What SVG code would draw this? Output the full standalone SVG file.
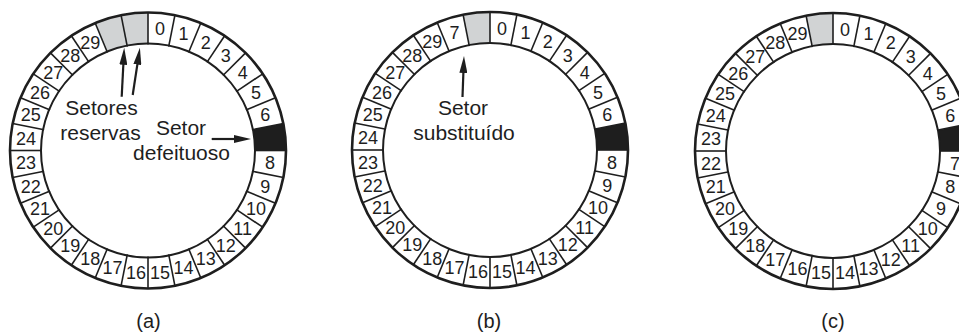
<svg xmlns="http://www.w3.org/2000/svg" xmlns:xlink="http://www.w3.org/1999/xlink" width="959" height="332" viewBox="0 0 959 332">
<style>
  .outer { fill: none; stroke: #1e1e1e; stroke-width: 2.6; }
  .inner { fill: none; stroke: #1e1e1e; stroke-width: 2; }
  .spoke { stroke: #1e1e1e; stroke-width: 1.6; }
  .spare { fill: #d1d3d4; }
  .bad { fill: #1e1e1e; }
  .num { font-family: "Liberation Sans", Arial, sans-serif; font-size: 18px; fill: #1e1e1e; text-anchor: middle; }
  .lbl { font-family: "Liberation Sans", Arial, sans-serif; font-size: 21px; fill: #1e1e1e; text-anchor: middle; }
  .cap { font-family: "Liberation Sans", Arial, sans-serif; font-size: 20px; fill: #1e1e1e; text-anchor: middle; }
  .arrow { stroke: #1e1e1e; stroke-width: 2.2; fill: none; marker-end: url(#head); }
</style>
<defs>
  <marker id="head" markerUnits="userSpaceOnUse" markerWidth="17" markerHeight="8" viewBox="0 0 17 8" refX="9" refY="4" orient="auto">
    <path d="M0,0 L17,4 L0,8 Z" fill="#1e1e1e"/>
  </marker>
  <path id="sec" d="M0,-138 A138,138 0 0 1 26.92,-135.35 L20.87,-104.94 A107,107 0 0 0 0,-107 Z"/>
  <line id="rad" class="spoke" x1="0" y1="-106" x2="0" y2="-138"/>
  <g id="ring">
    <use href="#rad" transform="rotate(0)"/>
    <use href="#rad" transform="rotate(11.25)"/>
    <use href="#rad" transform="rotate(22.5)"/>
    <use href="#rad" transform="rotate(33.75)"/>
    <use href="#rad" transform="rotate(45)"/>
    <use href="#rad" transform="rotate(56.25)"/>
    <use href="#rad" transform="rotate(67.5)"/>
    <use href="#rad" transform="rotate(78.75)"/>
    <use href="#rad" transform="rotate(90)"/>
    <use href="#rad" transform="rotate(101.25)"/>
    <use href="#rad" transform="rotate(112.5)"/>
    <use href="#rad" transform="rotate(123.75)"/>
    <use href="#rad" transform="rotate(135)"/>
    <use href="#rad" transform="rotate(146.25)"/>
    <use href="#rad" transform="rotate(157.5)"/>
    <use href="#rad" transform="rotate(168.75)"/>
    <use href="#rad" transform="rotate(180)"/>
    <use href="#rad" transform="rotate(191.25)"/>
    <use href="#rad" transform="rotate(202.5)"/>
    <use href="#rad" transform="rotate(213.75)"/>
    <use href="#rad" transform="rotate(225)"/>
    <use href="#rad" transform="rotate(236.25)"/>
    <use href="#rad" transform="rotate(247.5)"/>
    <use href="#rad" transform="rotate(258.75)"/>
    <use href="#rad" transform="rotate(270)"/>
    <use href="#rad" transform="rotate(281.25)"/>
    <use href="#rad" transform="rotate(292.5)"/>
    <use href="#rad" transform="rotate(303.75)"/>
    <use href="#rad" transform="rotate(315)"/>
    <use href="#rad" transform="rotate(326.25)"/>
    <use href="#rad" transform="rotate(337.5)"/>
    <use href="#rad" transform="rotate(348.75)"/>
    <circle class="inner" r="107"/>
    <circle class="outer" r="138"/>
  </g>
</defs>

<!-- Disk (a) -->
<g id="disk-a" transform="translate(148,150.5)">
  <use href="#sec" class="spare" transform="rotate(-22.5)"/>
  <use href="#sec" class="spare" transform="rotate(-11.25)"/>
  <use href="#sec" class="bad" transform="rotate(78.75)"/>
  <use href="#ring"/>
  <g class="num">
    <text y="6.5" transform="rotate(5.625) translate(0,-122.5) rotate(-5.625)">0</text>
    <text y="6.5" transform="rotate(16.875) translate(0,-122.5) rotate(-16.875)">1</text>
    <text y="6.5" transform="rotate(28.125) translate(0,-122.5) rotate(-28.125)">2</text>
    <text y="6.5" transform="rotate(39.375) translate(0,-122.5) rotate(-39.375)">3</text>
    <text y="6.5" transform="rotate(50.625) translate(0,-122.5) rotate(-50.625)">4</text>
    <text y="6.5" transform="rotate(61.875) translate(0,-122.5) rotate(-61.875)">5</text>
    <text y="6.5" transform="rotate(73.125) translate(0,-122.5) rotate(-73.125)">6</text>
    <text y="6.5" transform="rotate(95.625) translate(0,-122.5) rotate(-95.625)">8</text>
    <text y="6.5" transform="rotate(106.875) translate(0,-122.5) rotate(-106.875)">9</text>
    <text y="6.5" transform="rotate(118.125) translate(0,-122.5) rotate(-118.125)">10</text>
    <text y="6.5" transform="rotate(129.375) translate(0,-122.5) rotate(-129.375)">11</text>
    <text y="6.5" transform="rotate(140.625) translate(0,-122.5) rotate(-140.625)">12</text>
    <text y="6.5" transform="rotate(151.875) translate(0,-122.5) rotate(-151.875)">13</text>
    <text y="6.5" transform="rotate(163.125) translate(0,-122.5) rotate(-163.125)">14</text>
    <text y="6.5" transform="rotate(174.375) translate(0,-122.5) rotate(-174.375)">15</text>
    <text y="6.5" transform="rotate(185.625) translate(0,-122.5) rotate(-185.625)">16</text>
    <text y="6.5" transform="rotate(196.875) translate(0,-122.5) rotate(-196.875)">17</text>
    <text y="6.5" transform="rotate(208.125) translate(0,-122.5) rotate(-208.125)">18</text>
    <text y="6.5" transform="rotate(219.375) translate(0,-122.5) rotate(-219.375)">19</text>
    <text y="6.5" transform="rotate(230.625) translate(0,-122.5) rotate(-230.625)">20</text>
    <text y="6.5" transform="rotate(241.875) translate(0,-122.5) rotate(-241.875)">21</text>
    <text y="6.5" transform="rotate(253.125) translate(0,-122.5) rotate(-253.125)">22</text>
    <text y="6.5" transform="rotate(264.375) translate(0,-122.5) rotate(-264.375)">23</text>
    <text y="6.5" transform="rotate(275.625) translate(0,-122.5) rotate(-275.625)">24</text>
    <text y="6.5" transform="rotate(286.875) translate(0,-122.5) rotate(-286.875)">25</text>
    <text y="6.5" transform="rotate(298.125) translate(0,-122.5) rotate(-298.125)">26</text>
    <text y="6.5" transform="rotate(309.375) translate(0,-122.5) rotate(-309.375)">27</text>
    <text y="6.5" transform="rotate(320.625) translate(0,-122.5) rotate(-320.625)">28</text>
    <text y="6.5" transform="rotate(331.875) translate(0,-122.5) rotate(-331.875)">29</text>
  </g>
</g>
<g id="label-a">
  <text class="lbl" x="101.5" y="115">Setores</text>
  <text class="lbl" x="100.5" y="140">reservas</text>
  <text class="lbl" x="181" y="134.5">Setor</text>
  <text class="lbl" x="181.5" y="160">defeituoso</text>
  <text class="cap" x="148.5" y="328">(a)</text>
</g>

<!-- Disk (b) -->
<g id="disk-b" transform="translate(490,150)">
  <use href="#sec" class="spare" transform="rotate(-11.25)"/>
  <use href="#sec" class="bad" transform="rotate(78.75)"/>
  <use href="#ring"/>
  <g class="num">
    <text y="6.5" transform="rotate(5.625) translate(0,-122.5) rotate(-5.625)">0</text>
    <text y="6.5" transform="rotate(16.875) translate(0,-122.5) rotate(-16.875)">1</text>
    <text y="6.5" transform="rotate(28.125) translate(0,-122.5) rotate(-28.125)">2</text>
    <text y="6.5" transform="rotate(39.375) translate(0,-122.5) rotate(-39.375)">3</text>
    <text y="6.5" transform="rotate(50.625) translate(0,-122.5) rotate(-50.625)">4</text>
    <text y="6.5" transform="rotate(61.875) translate(0,-122.5) rotate(-61.875)">5</text>
    <text y="6.5" transform="rotate(73.125) translate(0,-122.5) rotate(-73.125)">6</text>
    <text y="6.5" transform="rotate(95.625) translate(0,-122.5) rotate(-95.625)">8</text>
    <text y="6.5" transform="rotate(106.875) translate(0,-122.5) rotate(-106.875)">9</text>
    <text y="6.5" transform="rotate(118.125) translate(0,-122.5) rotate(-118.125)">10</text>
    <text y="6.5" transform="rotate(129.375) translate(0,-122.5) rotate(-129.375)">11</text>
    <text y="6.5" transform="rotate(140.625) translate(0,-122.5) rotate(-140.625)">12</text>
    <text y="6.5" transform="rotate(151.875) translate(0,-122.5) rotate(-151.875)">13</text>
    <text y="6.5" transform="rotate(163.125) translate(0,-122.5) rotate(-163.125)">14</text>
    <text y="6.5" transform="rotate(174.375) translate(0,-122.5) rotate(-174.375)">15</text>
    <text y="6.5" transform="rotate(185.625) translate(0,-122.5) rotate(-185.625)">16</text>
    <text y="6.5" transform="rotate(196.875) translate(0,-122.5) rotate(-196.875)">17</text>
    <text y="6.5" transform="rotate(208.125) translate(0,-122.5) rotate(-208.125)">18</text>
    <text y="6.5" transform="rotate(219.375) translate(0,-122.5) rotate(-219.375)">19</text>
    <text y="6.5" transform="rotate(230.625) translate(0,-122.5) rotate(-230.625)">20</text>
    <text y="6.5" transform="rotate(241.875) translate(0,-122.5) rotate(-241.875)">21</text>
    <text y="6.5" transform="rotate(253.125) translate(0,-122.5) rotate(-253.125)">22</text>
    <text y="6.5" transform="rotate(264.375) translate(0,-122.5) rotate(-264.375)">23</text>
    <text y="6.5" transform="rotate(275.625) translate(0,-122.5) rotate(-275.625)">24</text>
    <text y="6.5" transform="rotate(286.875) translate(0,-122.5) rotate(-286.875)">25</text>
    <text y="6.5" transform="rotate(298.125) translate(0,-122.5) rotate(-298.125)">26</text>
    <text y="6.5" transform="rotate(309.375) translate(0,-122.5) rotate(-309.375)">27</text>
    <text y="6.5" transform="rotate(320.625) translate(0,-122.5) rotate(-320.625)">28</text>
    <text y="6.5" transform="rotate(331.875) translate(0,-122.5) rotate(-331.875)">29</text>
    <text y="6.5" transform="rotate(343.125) translate(0,-122.5) rotate(-343.125)">7</text>
  </g>
</g>
<g id="label-b">
  <text class="lbl" x="463" y="115">Setor</text>
  <text class="lbl" x="464" y="140">substituído</text>
  <text class="cap" x="489" y="328">(b)</text>
</g>

<!-- Disk (c) -->
<g id="disk-c" transform="translate(833,151)">
  <use href="#sec" class="spare" transform="rotate(-11.25)"/>
  <use href="#sec" class="bad" transform="rotate(78.75)"/>
  <use href="#ring"/>
  <g class="num">
    <text y="6.5" transform="rotate(5.625) translate(0,-122.5) rotate(-5.625)">0</text>
    <text y="6.5" transform="rotate(16.875) translate(0,-122.5) rotate(-16.875)">1</text>
    <text y="6.5" transform="rotate(28.125) translate(0,-122.5) rotate(-28.125)">2</text>
    <text y="6.5" transform="rotate(39.375) translate(0,-122.5) rotate(-39.375)">3</text>
    <text y="6.5" transform="rotate(50.625) translate(0,-122.5) rotate(-50.625)">4</text>
    <text y="6.5" transform="rotate(61.875) translate(0,-122.5) rotate(-61.875)">5</text>
    <text y="6.5" transform="rotate(73.125) translate(0,-122.5) rotate(-73.125)">6</text>
    <text y="6.5" transform="rotate(95.625) translate(0,-122.5) rotate(-95.625)">7</text>
    <text y="6.5" transform="rotate(106.875) translate(0,-122.5) rotate(-106.875)">8</text>
    <text y="6.5" transform="rotate(118.125) translate(0,-122.5) rotate(-118.125)">9</text>
    <text y="6.5" transform="rotate(129.375) translate(0,-122.5) rotate(-129.375)">10</text>
    <text y="6.5" transform="rotate(140.625) translate(0,-122.5) rotate(-140.625)">11</text>
    <text y="6.5" transform="rotate(151.875) translate(0,-122.5) rotate(-151.875)">12</text>
    <text y="6.5" transform="rotate(163.125) translate(0,-122.5) rotate(-163.125)">13</text>
    <text y="6.5" transform="rotate(174.375) translate(0,-122.5) rotate(-174.375)">14</text>
    <text y="6.5" transform="rotate(185.625) translate(0,-122.5) rotate(-185.625)">15</text>
    <text y="6.5" transform="rotate(196.875) translate(0,-122.5) rotate(-196.875)">16</text>
    <text y="6.5" transform="rotate(208.125) translate(0,-122.5) rotate(-208.125)">17</text>
    <text y="6.5" transform="rotate(219.375) translate(0,-122.5) rotate(-219.375)">18</text>
    <text y="6.5" transform="rotate(230.625) translate(0,-122.5) rotate(-230.625)">19</text>
    <text y="6.5" transform="rotate(241.875) translate(0,-122.5) rotate(-241.875)">20</text>
    <text y="6.5" transform="rotate(253.125) translate(0,-122.5) rotate(-253.125)">21</text>
    <text y="6.5" transform="rotate(264.375) translate(0,-122.5) rotate(-264.375)">22</text>
    <text y="6.5" transform="rotate(275.625) translate(0,-122.5) rotate(-275.625)">23</text>
    <text y="6.5" transform="rotate(286.875) translate(0,-122.5) rotate(-286.875)">24</text>
    <text y="6.5" transform="rotate(298.125) translate(0,-122.5) rotate(-298.125)">25</text>
    <text y="6.5" transform="rotate(309.375) translate(0,-122.5) rotate(-309.375)">26</text>
    <text y="6.5" transform="rotate(320.625) translate(0,-122.5) rotate(-320.625)">27</text>
    <text y="6.5" transform="rotate(331.875) translate(0,-122.5) rotate(-331.875)">28</text>
    <text y="6.5" transform="rotate(343.125) translate(0,-122.5) rotate(-343.125)">29</text>
  </g>
</g>
<g id="label-c">
  <text class="cap" x="833" y="328">(c)</text>
</g>

<!-- Connectors -->
<g id="connectors">
  <line class="arrow" x1="121.7" y1="96.7" x2="123.8" y2="55.7"/>
  <line class="arrow" x1="132.7" y1="95" x2="138.7" y2="55.6"/>
  <line class="arrow" x1="211.7" y1="139" x2="243" y2="139"/>
  <line class="arrow" x1="462.5" y1="97" x2="463.7" y2="64"/>
</g>
</svg>
